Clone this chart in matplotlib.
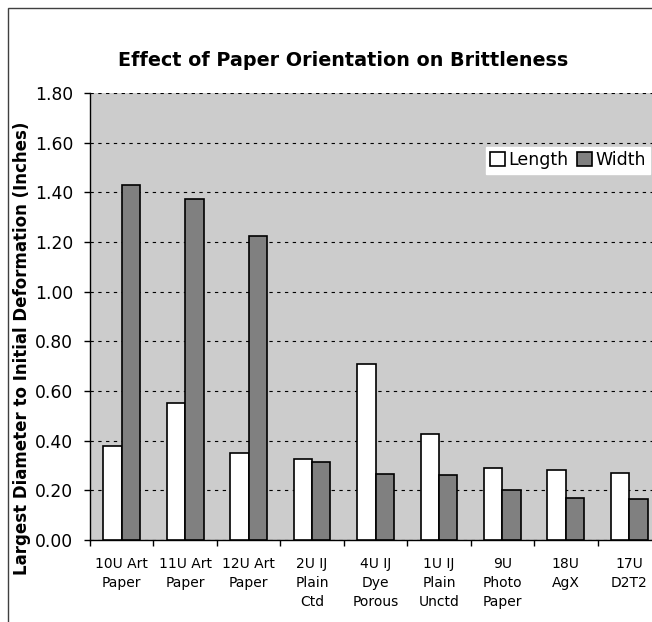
import matplotlib
matplotlib.use('Agg')
import matplotlib.pyplot as plt
import matplotlib.patches as mpatches
import numpy as np

categories = ['10U Art\nPaper', '11U Art\nPaper', '12U Art\nPaper', '2U IJ\nPlain\nCtd',
              '4U IJ\nDye\nPorous', '1U IJ\nPlain\nUnctd', '9U\nPhoto\nPaper', '18U\nAgX', '17U\nD2T2']
length = [0.38, 0.55, 0.35, 0.325, 0.71, 0.425, 0.29, 0.28, 0.27]
width = [1.43, 1.375, 1.225, 0.315, 0.265, 0.26, 0.20, 0.17, 0.165]
yticks = [0.0, 0.2, 0.4, 0.6, 0.8, 1.0, 1.2, 1.4, 1.6, 1.8]

W, H = 652, 622
fig = plt.figure(figsize=(W / 100, H / 100), dpi=100)

# outer chart border (right and bottom cut off in the reference)
fig.patches.append(mpatches.Rectangle((8 / W, -0.1), 1.2, 1 - 8 / H + 0.1, transform=fig.transFigure,
                                      facecolor='none', edgecolor='#404040', lw=1, clip_on=False))

ax = fig.add_axes([90 / W, 1 - 540 / H, 571 / W, 447 / H])
ax.set_facecolor('#cccccc')

x = np.arange(len(categories))
bw = 0.29
ax.bar(x - bw / 2, length, bw, color='white', edgecolor='black', lw=1.2, label='Length', zorder=3)
ax.bar(x + bw / 2, width, bw, color='#808080', edgecolor='black', lw=1.2, label='Width', zorder=3)

ax.set_xlim(-0.5, len(categories) - 0.5)
ax.set_ylim(0, 1.8)
ax.set_yticks(yticks)
ax.set_yticklabels(['%.2f' % v for v in yticks], fontsize=12.3)
ax.set_xticks(x)
ax.set_xticklabels(categories, fontsize=10, linespacing=1.45)
ax.set_xticks(np.arange(len(categories) + 1) - 0.5, minor=True)
ax.tick_params(axis='x', which='major', length=0, pad=12)
ax.tick_params(axis='x', which='minor', length=4, direction='out', width=1)
ax.tick_params(axis='y', length=4, direction='out', width=1, pad=8)

ax.yaxis.grid(True, linestyle=(0, (3, 4)), color='black', lw=0.8, zorder=1)
ax.set_axisbelow(True)
for s in ['top', 'right']:
    ax.spines[s].set_visible(False)
ax.spines['left'].set_linewidth(1)
ax.spines['bottom'].set_linewidth(1)

fig.text(343 / W, 1 - 61 / H, 'Effect of Paper Orientation on Brittleness', ha='center', va='center',
         fontsize=13.8, fontweight='bold')
fig.text(22 / W, 1 - 348 / H, 'Largest Diameter to Initial Deformation (Inches)', ha='center', va='center',
         rotation=90, fontsize=12, fontweight='bold')

leg = ax.legend(loc='upper right', bbox_to_anchor=(650 / W, 1 - 147 / H), bbox_transform=fig.transFigure,
                ncol=2, fontsize=12.5, frameon=True, fancybox=False, handlelength=0.85, handleheight=0.85,
                handletextpad=0.2, columnspacing=0.5, borderpad=0.25, borderaxespad=0)
leg.get_frame().set_facecolor('white')
leg.get_frame().set_edgecolor('white')
leg.get_frame().set_alpha(1)

fig.savefig('out.png', dpi=100)
